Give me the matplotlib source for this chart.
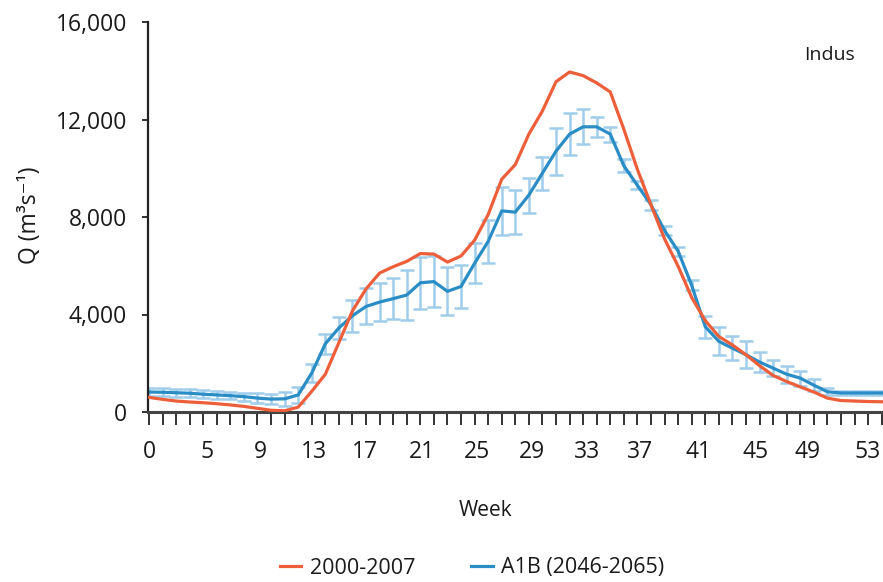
import matplotlib
matplotlib.use("Agg")
import matplotlib.pyplot as plt
import numpy as np

plt.rcParams['font.family'] = ['Open Sans', 'DejaVu Sans']

weeks = list(range(0, 55))
q_2000_2007 = [600, 520, 450, 410, 380, 340, 290, 230, 150, 70,
               50, 200, 850, 1550, 2850, 4150, 5050, 5700, 5960, 6180,
               6500, 6480, 6150, 6400, 7050, 8100, 9550, 10150, 11400, 12350,
               13550, 13950, 13800, 13500, 13130, 11600, 9950, 8500, 7100, 5980,
               4700, 3750, 3100, 2750, 2350, 1900, 1500, 1250, 1030, 820,
               570, 470, 450, 430, 420]
q_a1b = [820, 810, 790, 770, 730, 700, 670, 630, 570, 530,
         540, 700, 1600, 2800, 3450, 3950, 4330, 4510, 4650, 4800,
         5300, 5350, 4950, 5150, 6100, 7000, 8250, 8200, 8900, 9800,
         10700, 11400, 11700, 11700, 11400, 10100, 9300, 8500, 7450, 6600,
         5200, 3500, 2900, 2620, 2350, 2050, 1800, 1550, 1390, 1100,
         830, 780, 780, 780, 780]
err_a1b = [170, 170, 170, 170, 160, 150, 150, 170, 200, 220,
           280, 330, 370, 420, 450, 650, 740, 790, 850, 1030,
           1060, 1060, 990, 890, 820, 890, 990, 890, 720, 680,
           960, 850, 720, 410, 310, 270, 170, 200, 200, 180,
           200, 450, 580, 480, 550, 410, 340, 340, 310, 240,
           140, 100, 100, 100, 100]

tick_labels = ["0", "5", "9", "13", "17", "21", "25", "29", "33", "37", "41", "45", "49", "53"]
tick_pos = [0, 4.3, 8.2, 12.2, 15.9, 20.1, 24.2, 28.2, 32.3, 36.2, 40.5, 44.7, 48.5, 53.0]
y_ticks = [0, 4000, 8000, 12000, 16000]

red = '#ec5f3a'
blue = '#2a8dc5'
errc = '#9fcdea'
txt = '#1a1a1a'

fig = plt.figure(figsize=(8.83, 5.82), dpi=100)
ax = fig.add_axes([148/883, (582-412)/582, (883-148)/883, (412-22)/582])

ax.errorbar(weeks, q_a1b, yerr=err_a1b, fmt='none', ecolor=errc, elinewidth=1.8,
            capsize=5, capthick=1.8, zorder=1)
ax.plot(weeks, q_2000_2007, color=red, lw=2.3, label='2000-2007', zorder=3)
ax.plot(weeks, q_a1b, color=blue, lw=2.3, label='A1B (2046-2065)', zorder=2)

ax.set_xlim(-0.07, 54.1)
ax.set_ylim(0, 16000)
ax.set_yticks(y_ticks)
ax.set_yticklabels([f"{v:,}" for v in y_ticks])
ax.set_xticks(weeks)
ax.set_xticklabels([])
ax.tick_params(axis='x', which='major', length=9, width=1.3, direction='out', color='#222222')
ax.tick_params(axis='y', which='major', length=4, width=1.3, direction='out', pad=11,
               labelsize=16.5, labelcolor=txt, color='#222222')

# week labels (placed under the axis at their category positions)
xtrans = ax.get_xaxis_transform()
label_y = (412 - 452) / 390
for pos, lab in zip(tick_pos, tick_labels):
    ax.text(pos, label_y, lab, transform=xtrans, ha='center', va='center',
            fontsize=16.5, color=txt, clip_on=False)

for s in ['top', 'right']:
    ax.spines[s].set_visible(False)
ax.spines['left'].set_linewidth(1.6)
ax.spines['left'].set_color('#222222')
ax.spines['bottom'].set_linewidth(2.2)
ax.spines['bottom'].set_color('#444444')

fig.text(30/883, 1 - 215/582, 'Q (m³s⁻¹)', rotation=90, ha='center', va='center',
         fontsize=16.5, color=txt)
fig.text(485/883, 1 - 510/582, 'Week', ha='center', va='center', fontsize=15, color=txt)
fig.text(830/883, 1 - 55/582, 'Indus', ha='center', va='center', fontsize=14, color=txt)

leg = fig.legend(loc='center', bbox_to_anchor=(472/883, 1 - 568/582), ncol=2, frameon=False,
                 fontsize=15.5, handlelength=1.0, columnspacing=2.6, handletextpad=0.4)
for t in leg.get_texts():
    t.set_color(txt)

fig.savefig('out.png', dpi=100)
